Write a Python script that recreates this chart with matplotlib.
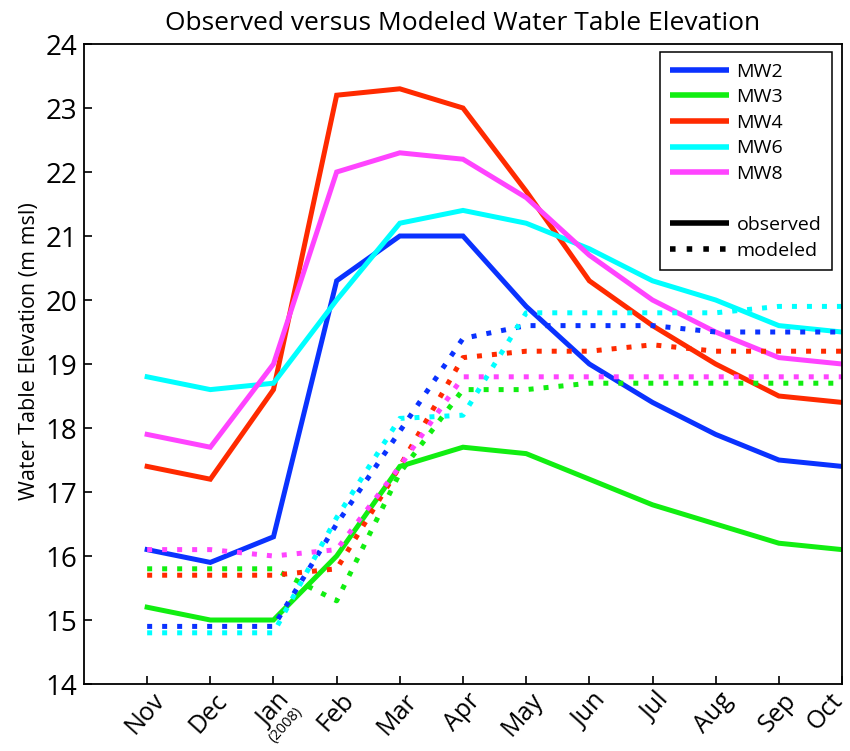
import matplotlib
matplotlib.use('Agg')
import matplotlib.pyplot as plt
from matplotlib.lines import Line2D
from matplotlib.transforms import ScaledTranslation

plt.rcParams['font.family'] = ['Open Sans', 'DejaVu Sans']

months = ['Nov', 'Dec', 'Jan', 'Feb', 'Mar', 'Apr', 'May', 'Jun', 'Jul', 'Aug', 'Sep', 'Oct']
wells = ['MW2', 'MW3', 'MW4', 'MW6', 'MW8']
colors = ['#0a32ff', '#11ee11', '#ff2a00', '#00ffff', '#ff44ff']

# observed water table (m msl)
obs_mw2 = [16.1, 15.9, 16.3, 20.3, 21.0, 21.0, 19.9, 19.0, 18.4, 17.9, 17.5, 17.4]
obs_mw3 = [15.2, 15.0, 15.0, 16.0, 17.4, 17.7, 17.6, 17.2, 16.8, 16.5, 16.2, 16.1]
obs_mw4 = [17.4, 17.2, 18.6, 23.2, 23.3, 23.0, 21.7, 20.3, 19.6, 19.0, 18.5, 18.4]
obs_mw6 = [18.8, 18.6, 18.7, 20.0, 21.2, 21.4, 21.2, 20.8, 20.3, 20.0, 19.6, 19.5]
obs_mw8 = [17.9, 17.7, 19.0, 22.0, 22.3, 22.2, 21.6, 20.7, 20.0, 19.5, 19.1, 19.0]

# modeled water table (m msl)
mod_mw2 = [14.9, 14.9, 14.9, 16.5, 17.95, 19.4, 19.6, 19.6, 19.6, 19.5, 19.5, 19.5]
mod_mw3 = [15.8, 15.8, 15.8, 15.3, 17.3, 18.6, 18.6, 18.7, 18.7, 18.7, 18.7, 18.7]
mod_mw4 = [15.7, 15.7, 15.7, 15.8, 17.4, 19.1, 19.2, 19.2, 19.3, 19.2, 19.2, 19.2]
mod_mw6 = [14.8, 14.8, 14.8, 16.6, 18.15, 18.2, 19.8, 19.8, 19.8, 19.8, 19.9, 19.9]
mod_mw8 = [16.1, 16.1, 16.0, 16.1, 17.4, 18.8, 18.8, 18.8, 18.8, 18.8, 18.8, 18.8]

observed = [obs_mw2, obs_mw3, obs_mw4, obs_mw6, obs_mw8]
modeled = [mod_mw2, mod_mw3, mod_mw4, mod_mw6, mod_mw8]
x = list(range(1, len(months) + 1))

fig = plt.figure(figsize=(8.5, 7.51), dpi=100)
ax = fig.add_axes([0.0988, 0.0892, 0.8918, 0.8522])

lw = 3.6
dots = (0, (1, 2))
for y, c in zip(observed, colors):
    ax.plot(x, y, color=c, lw=lw, solid_joinstyle='miter')
for y, c in zip(modeled, colors):
    ax.plot(x, y, color=c, lw=lw, linestyle=dots, dash_capstyle='butt')

ax.set_xlim(0, 12)
ax.set_ylim(14, 24)
ax.set_yticks(range(14, 25))
ax.set_xticks(x)
ax.set_xticklabels(months)
ax.tick_params(direction='in', length=6, width=1.2, top=False, right=False)
ax.tick_params(axis='y', labelsize=20, pad=5)
ax.tick_params(axis='x', labelsize=18, pad=3)
for sp in ax.spines.values():
    sp.set_linewidth(1.3)

for i, lab in enumerate(ax.get_xticklabels()):
    dx = 4 if i < len(months) - 1 else -13
    lab.set_rotation(48)
    lab.set_ha('right')
    lab.set_va('top')
    lab.set_rotation_mode('anchor')
    lab.set_transform(lab.get_transform() + ScaledTranslation(dx / 100, 0, fig.dpi_scale_trans))

# year note under the Jan label
ax.annotate('(2008)', xy=(3, 0), xycoords=('data', 'axes fraction'),
            xytext=(15, -14.5), textcoords='offset points',
            rotation=48, ha='right', va='top', rotation_mode='anchor', fontsize=10.5)

ax.set_ylabel('Water Table Elevation (m msl)', fontsize=15.5)
ax.yaxis.set_label_coords(-0.058, 0.52)
ax.set_title('Observed versus Modeled Water Table Elevation', fontsize=19, pad=10)

handles = [Line2D([], [], color=c, lw=4, solid_capstyle='butt') for c in colors]
handles.append(Line2D([], [], color='none'))
handles.append(Line2D([], [], color='black', lw=4, solid_capstyle='butt'))
handles.append(Line2D([], [], color='black', lw=4, linestyle=dots, dash_capstyle='butt'))
labels = wells + [' ', 'observed', 'modeled']
leg = ax.legend(handles, labels, loc='upper right', bbox_to_anchor=(0.987, 0.9875),
                borderaxespad=0, fontsize=14, handlelength=3.0, handletextpad=0.4,
                labelspacing=0.39, fancybox=False, edgecolor='black', framealpha=1,
                borderpad=0.55)
leg.get_frame().set_linewidth(1.1)

fig.savefig('out.png', dpi=100)
